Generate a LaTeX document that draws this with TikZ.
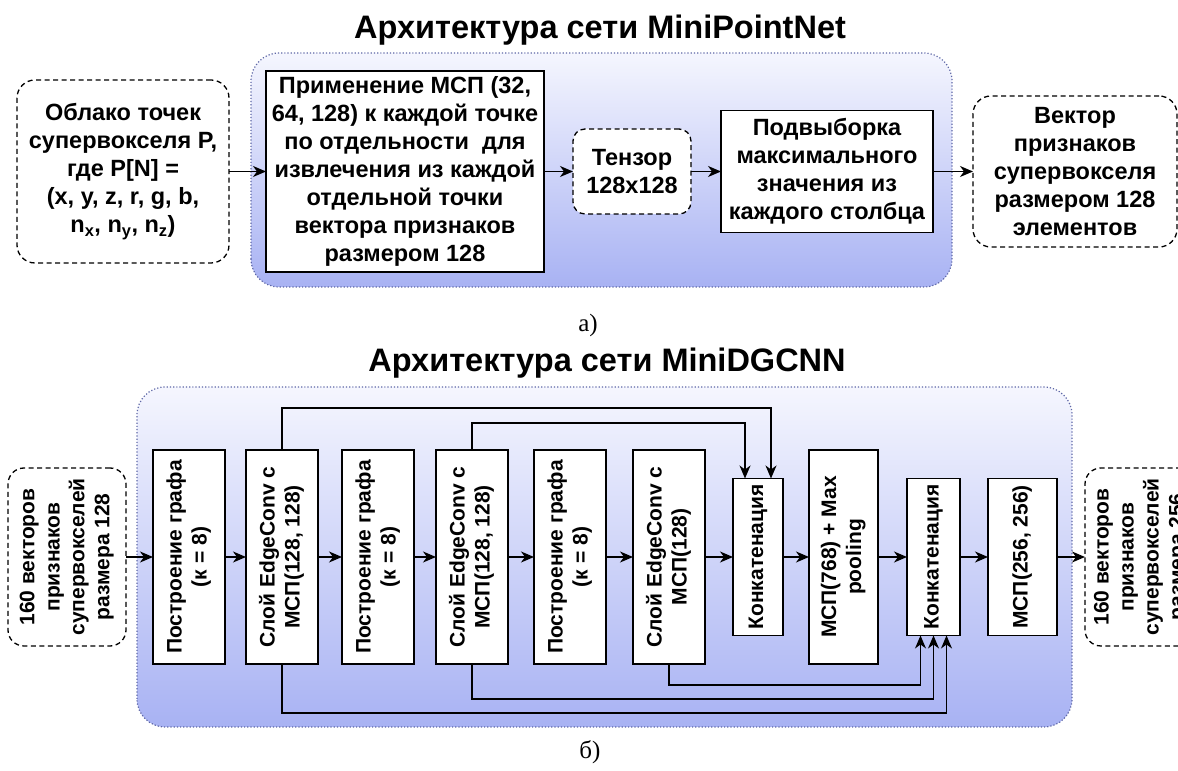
\documentclass[tikz,border=0pt]{standalone}
\usepackage{fontspec}
\setmainfont{Liberation Sans}
\newfontfamily\labelfont{Liberation Serif}
\usepackage{graphicx}
\usetikzlibrary{arrows.meta,positioning,shapes}

\definecolor{paneltop}{HTML}{F5F6FE}
\definecolor{panelbot}{HTML}{A8B2F3}
\definecolor{paneledge}{HTML}{5E67A6}

\newcommand{\vtext}[1]{\rotatebox{90}{\begin{tabular}{@{}c@{}}#1\end{tabular}}}

\tikzset{
  blk/.style={draw, line width=1.3pt, fill=white, inner sep=0pt, outer sep=0pt, align=center,
    font=\bfseries\fontsize{23.5}{28}\selectfont},
  dbox/.style={blk, dashed, dash pattern=on 5pt off 3.5pt, rounded corners=18pt},
  vblk/.style={blk, font=\bfseries\fontsize{21}{25}\selectfont},
  vdbox/.style={vblk, dashed, dash pattern=on 5pt off 3.5pt, rounded corners=16pt},
  panel/.style={draw=paneledge, line width=1.2pt, dotted, rounded corners=28pt,
    top color=paneltop, bottom color=panelbot},
  title/.style={font=\bfseries\fontsize{32.5}{36}\selectfont},
  sublabel/.style={font=\labelfont\fontsize{25}{28}\selectfont},
  arr/.style={-{Stealth[length=13pt,width=11pt,inset=4pt]}, line width=1.3pt},
}

\begin{document}
\begin{tikzpicture}[x=1pt,y=1pt]
          \useasboundingbox (0,0) rectangle (1178,771);
          \clip (0,0) rectangle (1178,771);
          % MiniPointNet
          \node[title] at (600,741) (titleA) {Архитектура сети MiniPointNet};
          \draw[panel] (251,484) rectangle (952,718);
          \node[dbox, minimum width=212pt, minimum height=183pt] at (123,599.5) (cloud)
            {Облако точек\\супервокселя P,\\где P[N] =\\(x, y, z, r, g, b,\\n\textsubscript{x}, n\textsubscript{y}, n\textsubscript{z})};
          \node[blk, minimum width=278pt, minimum height=201pt, right=37pt of cloud] (mlp)
            {Применение МСП (32,\\64, 128) к каждой точке\\по отдельности\ \ для\\извлечения из каждой\\отдельной точки\\вектора признаков\\размером 128};
          \node[dbox, rounded corners=12pt, minimum width=118pt, minimum height=85pt, right=29pt of mlp] (tensor)
            {Тензор\\128x128};
          \node[blk, minimum width=212pt, minimum height=122pt, right=30pt of tensor] (maxsel)
            {Подвыборка\\максимального\\значения из\\каждого столбца};
          \node[dbox, minimum width=204pt, minimum height=151pt, right=40pt of maxsel] (featvec)
            {Вектор\\признаков\\супервокселя\\размером 128\\элементов};
          \draw[arr] (cloud) -- (mlp);
          \draw[arr] (mlp) -- (tensor);
          \draw[arr] (tensor) -- (maxsel);
          \draw[arr] (maxsel) -- (featvec);
          \node[sublabel] at (588,446) (labA) {а)};
          % MiniDGCNN
          \node[title] at (607,408) (titleB) {Архитектура сети MiniDGCNN};
          \draw[panel] (137,44) rectangle (1072,384);
          \node[vdbox, minimum width=118pt, minimum height=178pt] at (67,214) (src)
            {\vtext{160 векторов\\признаков\\супервокселей\\размера 128}};
          \node[vblk, minimum width=72pt, minimum height=214pt, right=27pt of src] (graphA)
            {\vtext{Построение графа\\(к = 8)}};
          \node[vblk, minimum width=72pt, minimum height=214pt, right=21pt of graphA] (edgeA)
            {\vtext{Слой EdgeConv с\\МСП(128, 128)}};
          \node[vblk, minimum width=72pt, minimum height=214pt, right=24pt of edgeA] (graphB)
            {\vtext{Построение графа\\(к = 8)}};
          \node[vblk, minimum width=72pt, minimum height=214pt, right=22pt of graphB] (edgeB)
            {\vtext{Слой EdgeConv с\\МСП(128, 128)}};
          \node[vblk, minimum width=72pt, minimum height=214pt, right=26pt of edgeB] (graphC)
            {\vtext{Построение графа\\(к = 8)}};
          \node[vblk, minimum width=72pt, minimum height=214pt, right=27pt of graphC] (edgeC)
            {\vtext{Слой EdgeConv с\\МСП(128)}};
          \node[vblk, minimum width=50pt, minimum height=157pt, right=28pt of edgeC] (concatA)
            {\vtext{Конкатенация}};
          \node[vblk, minimum width=69pt, minimum height=214pt, right=26pt of concatA] (pool)
            {\vtext{МСП(768) + Max\\pooling}};
          \node[vblk, minimum width=53pt, minimum height=157pt, right=29pt of pool] (concatB)
            {\vtext{Конкатенация}};
          \node[vblk, minimum width=69pt, minimum height=157pt, right=28pt of concatB] (head)
            {\vtext{МСП(256, 256)}};
          \node[vdbox, minimum width=112pt, minimum height=178pt, right=28pt of head] (dst)
            {\vtext{160 векторов\\признаков\\супервокселей\\размера 256}};
          \draw[arr] (src) -- (graphA);
          \draw[arr] (graphA) -- (edgeA);
          \draw[arr] (edgeA) -- (graphB);
          \draw[arr] (graphB) -- (edgeB);
          \draw[arr] (edgeB) -- (graphC);
          \draw[arr] (graphC) -- (edgeC);
          \draw[arr] (edgeC) -- (concatA);
          \draw[arr] (concatA) -- (pool);
          \draw[arr] (pool) -- (concatB);
          \draw[arr] (concatB) -- (head);
          \draw[arr] (head) -- (dst);
          % skip connections
          \draw[arr] (edgeA.north) -- ++(0,42) -| ([xshift=13pt]concatA.north);
          \draw[arr] (edgeB.north) -- ++(0,27) -| ([xshift=-13pt]concatA.north);
          \draw[arr] (edgeA.south) -- ++(0,-49) -| ([xshift=13pt]concatB.south);
          \draw[arr] (edgeB.south) -- ++(0,-35) -| (concatB.south);
          \draw[arr] (edgeC.south) -- ++(0,-21) -| ([xshift=-13pt]concatB.south);
          \node[sublabel] at (590,19) (labB) {б)};
        \end{tikzpicture}
\end{document}
